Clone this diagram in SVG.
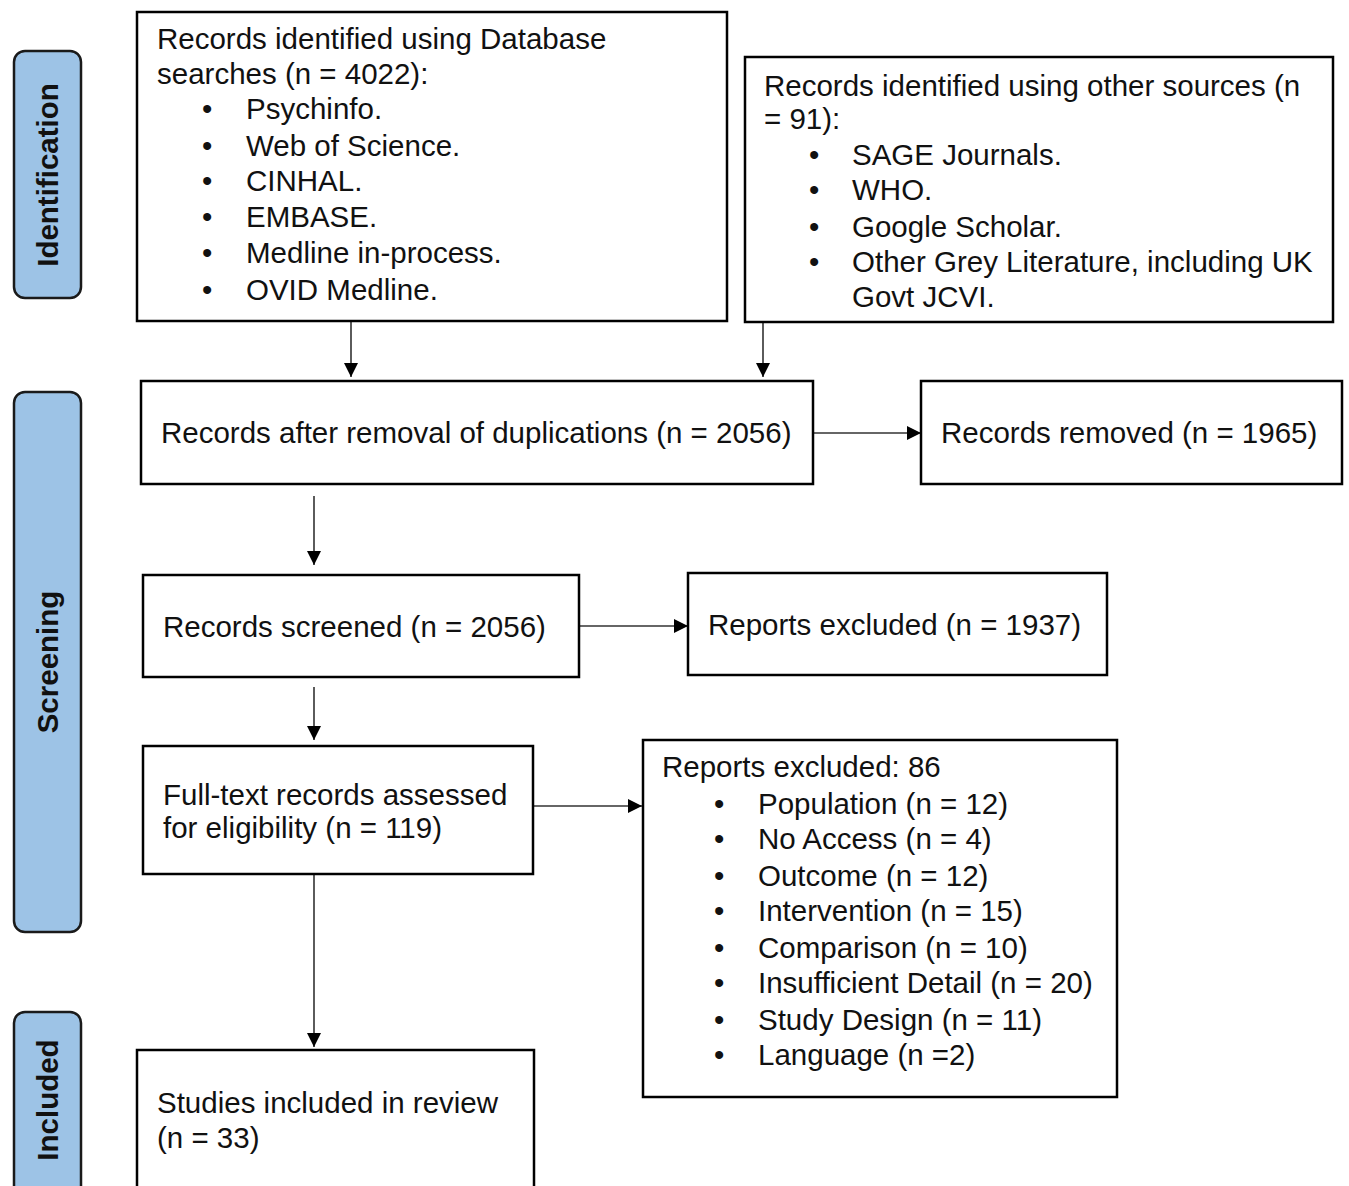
<svg xmlns="http://www.w3.org/2000/svg" width="1349" height="1186" viewBox="0 0 1349 1186">
<defs>
<style>
.box{fill:#fff;stroke:#000;stroke-width:2.5}
.side{fill:#9dc3e6;stroke:#1a1a1a;stroke-width:2.5}
.t{font-family:"Liberation Sans",Arial,sans-serif;font-size:29.5px;fill:#111}
.s{font-family:"Liberation Sans",Arial,sans-serif;font-size:29.5px;font-weight:bold;fill:#111}
.c{stroke:#333;stroke-width:1.6;fill:none;marker-end:url(#ahb)}
</style>
<marker id="ahb" viewBox="0 0 10 10" refX="10" refY="5" markerWidth="14" markerHeight="14" markerUnits="userSpaceOnUse" orient="auto"><path d="M0,0L10,5L0,10z" fill="#000"/></marker>
</defs>
<rect width="1349" height="1186" fill="#fff"/>
<g id="side-identification"><rect class="side" x="14" y="51" width="67" height="247" rx="11"/><text class="s" transform="translate(58,175) rotate(-90)" text-anchor="middle">Identification</text></g>
<g id="side-screening"><rect class="side" x="14" y="392" width="67" height="540" rx="11"/><text class="s" transform="translate(58,662) rotate(-90)" text-anchor="middle">Screening</text></g>
<g id="side-included"><rect class="side" x="14" y="1012" width="67" height="200" rx="11"/><text class="s" transform="translate(58,1100) rotate(-90)" text-anchor="middle">Included</text></g>
<g id="connectors">
<path class="c" d="M351,322V377"/>
<path class="c" d="M763,322V377"/>
<path class="c" d="M814,433H921"/>
<path class="c" d="M314,496V565"/>
<path class="c" d="M580,626H688"/>
<path class="c" d="M314,687V740"/>
<path class="c" d="M534,806H642"/>
<path class="c" d="M314,875V1047"/>
</g>
<g id="db">
<rect class="box" x="137" y="12" width="590" height="309"/>
<text class="t" x="157" y="49">Records identified using Database</text>
<text class="t" x="157" y="84">searches (n = 4022):</text>
<g class="t">
<text x="202" y="119">•</text><text x="246" y="119">Psychinfo.</text>
<text x="202" y="156">•</text><text x="246" y="156">Web of Science.</text>
<text x="202" y="191">•</text><text x="246" y="191">CINHAL.</text>
<text x="202" y="227">•</text><text x="246" y="227">EMBASE.</text>
<text x="202" y="263">•</text><text x="246" y="263">Medline in-process.</text>
<text x="202" y="300">•</text><text x="246" y="300">OVID Medline.</text>
</g>
</g>
<g id="other">
<rect class="box" x="745" y="57" width="588" height="265"/>
<text class="t" x="764" y="96">Records identified using other sources (n</text>
<text class="t" x="764" y="129">= 91):</text>
<g class="t">
<text x="809" y="165">•</text><text x="852" y="165">SAGE Journals.</text>
<text x="809" y="200">•</text><text x="852" y="200">WHO.</text>
<text x="809" y="237">•</text><text x="852" y="237">Google Scholar.</text>
<text x="809" y="272">•</text><text x="852" y="272">Other Grey Literature, including UK</text>
<text x="852" y="307">Govt JCVI.</text>
</g>
</g>
<g id="dedup"><rect class="box" x="141" y="381" width="672" height="103"/><text class="t" x="161" y="443">Records after removal of duplications (n = 2056)</text></g>
<g id="removed"><rect class="box" x="921" y="381" width="421" height="103"/><text class="t" x="941" y="443">Records removed (n = 1965)</text></g>
<g id="screened"><rect class="box" x="143" y="575" width="436" height="102"/><text class="t" x="163" y="637">Records screened (n = 2056)</text></g>
<g id="excluded1"><rect class="box" x="688" y="573" width="419" height="102"/><text class="t" x="708" y="635">Reports excluded (n = 1937)</text></g>
<g id="fulltext"><rect class="box" x="143" y="746" width="390" height="128"/><text class="t" x="163" y="805">Full-text records assessed</text><text class="t" x="163" y="838">for eligibility (n = 119)</text></g>
<g id="excluded2">
<rect class="box" x="643" y="740" width="474" height="357"/>
<text class="t" x="662" y="777">Reports excluded: 86</text>
<g class="t">
<text x="714" y="814">•</text><text x="758" y="814">Population (n = 12)</text>
<text x="714" y="849">•</text><text x="758" y="849">No Access (n = 4)</text>
<text x="714" y="886">•</text><text x="758" y="886">Outcome (n = 12)</text>
<text x="714" y="921">•</text><text x="758" y="921">Intervention (n = 15)</text>
<text x="714" y="958">•</text><text x="758" y="958">Comparison (n = 10)</text>
<text x="714" y="993">•</text><text x="758" y="993">Insufficient Detail (n = 20)</text>
<text x="714" y="1030">•</text><text x="758" y="1030">Study Design (n = 11)</text>
<text x="714" y="1065">•</text><text x="758" y="1065">Language (n =2)</text>
</g>
</g>
<g id="included"><rect class="box" x="137" y="1050" width="397" height="160"/><text class="t" x="157" y="1113">Studies included in review</text><text class="t" x="157" y="1148">(n = 33)</text></g>
</svg>
